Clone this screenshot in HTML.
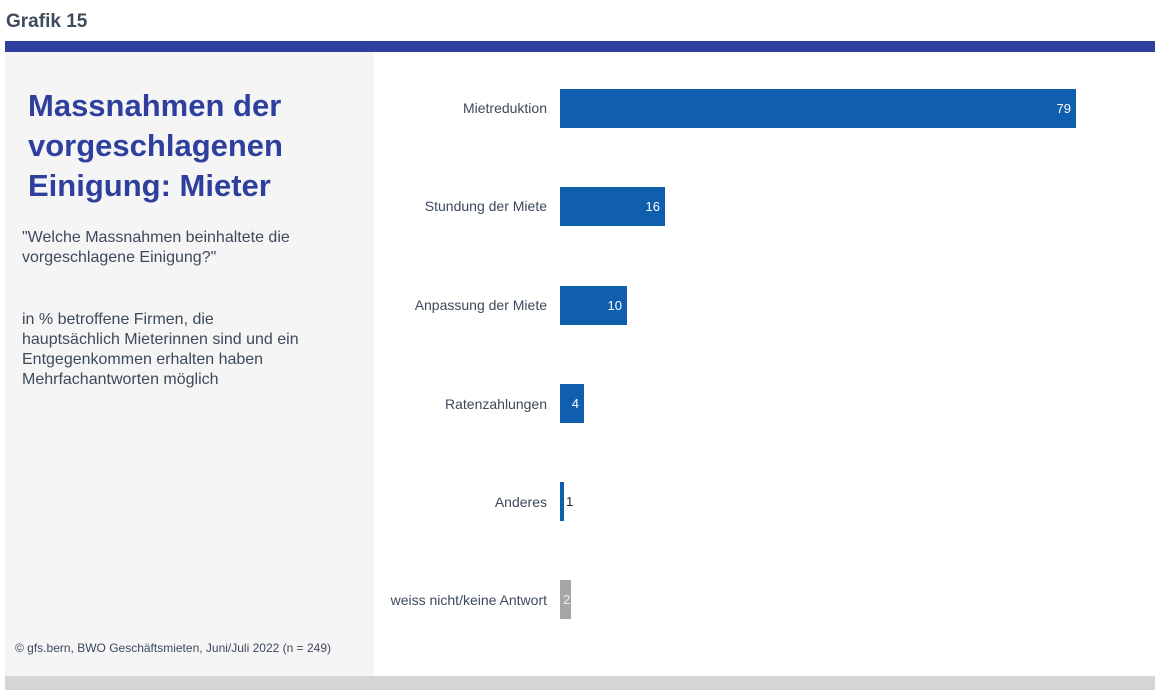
<!DOCTYPE html>
<html><head><meta charset="utf-8"><style>
body{margin:0;width:1174px;height:700px;background:#fff;position:relative;font-family:"Liberation Sans",sans-serif;overflow:hidden}
div{position:absolute}
.lab{right:627px;font-size:14px;color:#3c4a5a;text-align:right;white-space:nowrap;line-height:16px}
.bar{left:560px;background:#0f5fae;height:39px}
.v{font-size:13px;color:#fff;line-height:39px;text-align:right;padding-right:5px;box-sizing:border-box}
</style></head><body>
<div style="left:6px;top:11px;font-size:19px;font-weight:bold;color:#3e4c5c">Grafik 15</div>
<div style="left:5px;top:41px;width:1150px;height:11px;background:#2f3f9e"></div>
<div style="left:5px;top:52px;width:369px;height:624px;background:#f5f5f6"></div>
<div style="left:5px;top:676px;width:1150px;height:14px;background:#d4d6d6"></div>
<div style="left:28px;top:86px;font-size:31px;font-weight:bold;color:#2f3f9e;line-height:40px">Massnahmen der<br>vorgeschlagenen<br>Einigung: Mieter</div>
<div style="left:22px;top:228px;font-size:16px;color:#3c4a5a;line-height:20px">"Welche Massnahmen beinhaltete die<br>vorgeschlagene Einigung?"</div>
<div style="left:22px;top:310px;font-size:16px;color:#3c4a5a;line-height:20px">in % betroffene Firmen, die<br>hauptsächlich Mieterinnen sind und ein<br>Entgegenkommen erhalten haben<br>Mehrfachantworten möglich</div>
<div style="left:15px;top:641px;font-size:12px;color:#3c4a5a">© gfs.bern, BWO Geschäftsmieten, Juni/Juli 2022 (n = 249)</div>

<div class="lab" style="top:100px">Mietreduktion</div>
<div class="bar v" style="top:89px;width:516px">79</div>
<div class="lab" style="top:198px">Stundung der Miete</div>
<div class="bar v" style="top:187px;width:105px">16</div>
<div class="lab" style="top:297px">Anpassung der Miete</div>
<div class="bar v" style="top:286px;width:67px">10</div>
<div class="lab" style="top:396px">Ratenzahlungen</div>
<div class="bar v" style="top:384px;width:24px">4</div>
<div class="lab" style="top:494px">Anderes</div>
<div class="bar" style="top:482px;width:4px"></div>
<div style="left:566px;top:482px;line-height:39px;font-size:13px;color:#222">1</div>
<div class="lab" style="top:592px">weiss nicht/keine Antwort</div>
<div class="bar" style="top:580px;width:11px;background:#a6a6a6"></div>
<div style="left:563px;top:580px;line-height:39px;font-size:13px;color:#eee">2</div>
</body></html>
